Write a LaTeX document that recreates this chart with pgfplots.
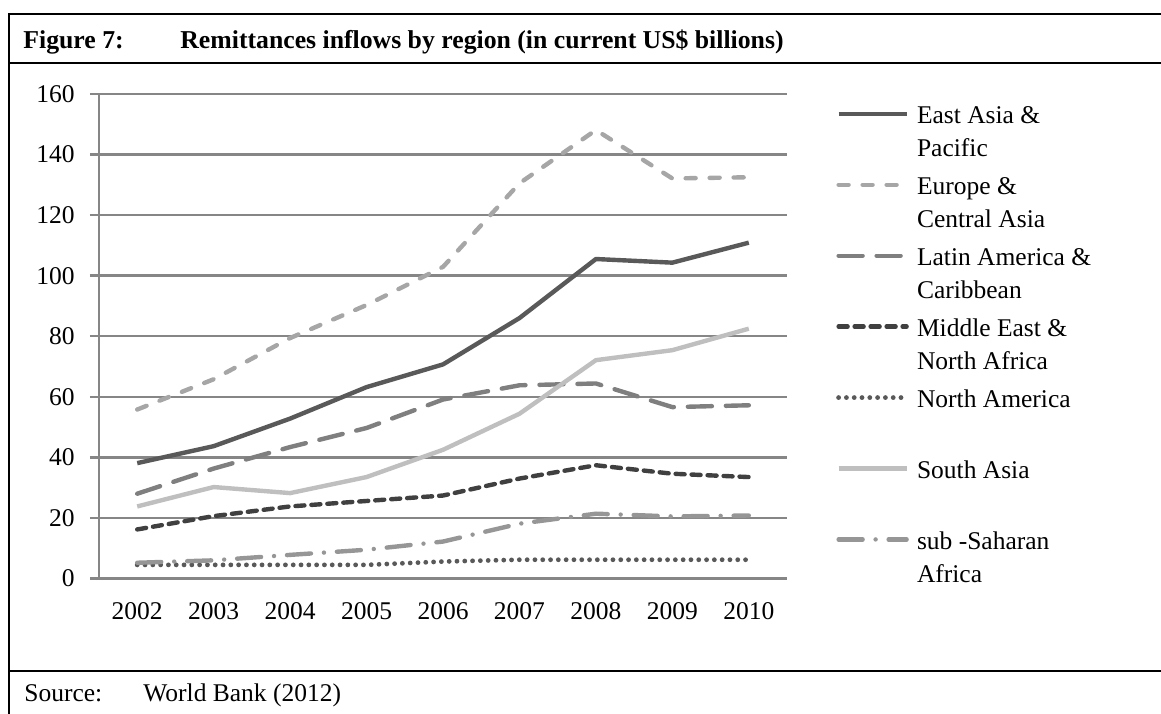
\documentclass[border=0pt]{standalone}
\usepackage{pgfplots}
\pgfplotsset{compat=1.18}
\usepackage{fontspec}
\setmainfont{Liberation Serif}
\definecolor{cEA}{HTML}{595959}
\definecolor{cEU}{HTML}{A6A6A6}
\definecolor{cLA}{HTML}{7F7F7F}
\definecolor{cME}{HTML}{404040}
\definecolor{cNA}{HTML}{595959}
\definecolor{cSA}{HTML}{BFBFBF}
\definecolor{cSS}{HTML}{969696}
\definecolor{cGrid}{HTML}{868686}
\begin{document}
\fontsize{12.75bp}{16.5bp}\selectfont
\begin{tikzpicture}[x=0.5bp,y=0.5bp]
\draw[line width=1bp] (8,699) -- (1175,699);
\draw[line width=1bp] (9,699.5) -- (9,-10);
\draw[line width=1bp] (9,650) -- (1175,650);
\draw[line width=1bp] (9,42) -- (1175,42);
\node[anchor=base west, inner sep=0pt, font=\fontsize{12.87bp}{16bp}\selectfont\bfseries] at (23,664) {Figure 7:};
\node[anchor=base west, inner sep=0pt, font=\fontsize{12.87bp}{16bp}\selectfont\bfseries] at (180,664) {Remittances inflows by region (in current US\$ billions)};
\node[anchor=base west, inner sep=0pt] at (24,12) {Source:};
\node[anchor=base west, inner sep=0pt] at (143,12) {World Bank (2012)};
\coordinate (O) at (99,134.5);
\begin{axis}[
  at={(O)}, anchor=south west,
  scale only axis, width=344bp, height=242.25bp,
  xmin=-0.5, xmax=8.5, ymin=0, ymax=160,
  axis lines=left, axis line style={-, cGrid, line width=1.25bp},
  ymajorgrids, major grid style={cGrid, line width=1.25bp},
  ytick={0,20,...,160},
  xtick={0,...,8},
  xticklabels={2002,2003,2004,2005,2006,2007,2008,2009,2010},
  minor xtick={-0.5,0.5,...,8.5},
  xtick style={draw=none},
  minor x tick style={cGrid, line width=1.25bp},
  ytick style={cGrid, line width=1.25bp},
  tick align=outside,
  major tick length=4.5bp, minor tick length=4.5bp,
  /pgf/number format/assume math mode=true,
  xticklabel style={inner sep=0pt, anchor=north, yshift=-7.5bp},
  yticklabel style={inner sep=0pt, anchor=east, xshift=-7.5bp},
  every axis plot/.append style={line width=2.2bp, line join=round},
  legend style={at={(1.0709,0.9876)}, anchor=north west, draw=none, fill=none,
    inner sep=0pt, row sep=22bp, column sep=4bp, nodes={inner sep=0pt}},
  legend cell align=left,
  legend image code/.code={\draw[#1] (0bp,0bp) -- (34bp,0bp);},
]
\addplot[cEA] coordinates {(0,38.1) (1,43.7) (2,52.8) (3,63.2) (4,70.7) (5,86.0) (6,105.5) (7,104.3) (8,110.9)};
\addlegendentry{\parbox[t]{4cm}{\strut East Asia \&\\\strut Pacific}}
\addplot[cEU, line cap=round, dash pattern=on 5bp off 7bp] coordinates {(0,55.8) (1,65.8) (2,79.4) (3,90.3) (4,102.9) (5,130.5) (6,148.1) (7,132.1) (8,132.5)};
\addlegendentry{\parbox[t]{4cm}{\strut Europe \&\\\strut Central Asia}}
\addplot[cLA, line cap=round, dash pattern=on 12bp off 7bp] coordinates {(0,28.0) (1,36.3) (2,43.4) (3,49.7) (4,59.1) (5,63.8) (6,64.4) (7,56.6) (8,57.2)};
\addlegendentry{\parbox[t]{4cm}{\strut Latin America \&\\\strut Caribbean}}
\addplot[cME, line cap=round, dash pattern=on 4.5bp off 3.5bp] coordinates {(0,16.2) (1,20.6) (2,23.8) (3,25.6) (4,27.4) (5,33.0) (6,37.4) (7,34.6) (8,33.5)};
\addlegendentry{\parbox[t]{4cm}{\strut Middle East \&\\\strut North Africa}}
\addplot[cNA, line cap=round, line width=2.4bp, dash pattern=on 0bp off 3.9bp] coordinates {(0,4.5) (1,4.5) (2,4.5) (3,4.5) (4,5.6) (5,6.2) (6,6.2) (7,6.2) (8,6.2)};
\addlegendentry{\parbox[t]{4cm}{\strut North America}}
\addplot[cSA] coordinates {(0,23.8) (1,30.2) (2,28.2) (3,33.5) (4,42.5) (5,54.4) (6,72.1) (7,75.4) (8,82.5)};
\addlegendentry{\parbox[t]{4cm}{\strut South Asia}}
\addplot[cSS, line cap=round, dash pattern=on 12bp off 6.5bp on 0bp off 6.5bp] coordinates {(0,5.2) (1,6.0) (2,7.8) (3,9.5) (4,12.2) (5,18.1) (6,21.4) (7,20.5) (8,20.8)};
\addlegendentry{\parbox[t]{4cm}{\strut sub -Saharan\\\strut Africa}}
\end{axis}
\pgfresetboundingbox
\path (0,0) rectangle (1161,713);
\end{tikzpicture}
\end{document}
